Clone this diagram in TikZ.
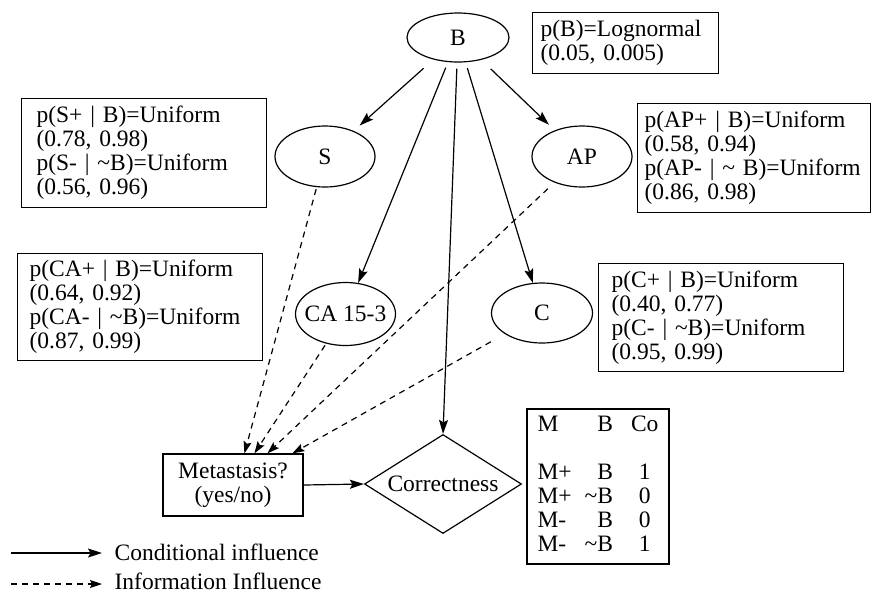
\documentclass[tikz,border=0pt]{standalone}
\usepackage{fontspec}
\setmainfont{Liberation Serif}
\usetikzlibrary{shapes.geometric,arrows.meta}
\begin{document}
\begin{tikzpicture}[x=1pt,y=-1pt,
  font=\fontsize{23.5}{24}\selectfont,
  line width=1.2pt,
  state/.style={ellipse,draw,inner sep=0pt},
  pbox/.style={draw,anchor=north west,align=left,inner ysep=0pt},
  cond/.style={-{Stealth[length=14pt,width=9pt,inset=2.5pt]}},
  info/.style={dash pattern=on 6pt off 5pt,-{Stealth[length=12pt,width=8pt,inset=2pt]}}
]
\useasboundingbox (0,0) rectangle (872,595);

% chance nodes
\node[state,minimum width=102pt,minimum height=49pt] (B) at (458,37.5) {B};
\node[state,minimum width=100pt,minimum height=61pt] (S) at (325,156.5) {S};
\node[state,minimum width=100pt,minimum height=61pt] (AP) at (582,156.5) {AP};
\node[state,minimum width=100pt,minimum height=63pt] (CA) at (345.5,314) {\makebox[0pt]{CA 15-3}};
\node[state,minimum width=101pt,minimum height=60pt] (C) at (542,313) {C};

% decision and value nodes
\node[draw,align=center,minimum width=140pt,minimum height=62pt,inner sep=0pt] (Met) at (233,485) {Metastasis?\\(yes/no)};
\node[diamond,draw,aspect=1.586,minimum width=157pt,minimum height=99pt,inner sep=0pt] (Cor) at (443,484) {Correctness};

% probability boxes
\node[pbox,text width=170pt,inner xsep=8pt,minimum height=61pt] (pB) at (532,12)
  {p(B)=Lognormal\\(0.05, 0.005)};
\node[pbox,text width=215pt,inner xsep=15pt,minimum height=109pt] (pS) at (21,98)
  {p(S+ | B)=Uniform\\(0.78, 0.98)\\p(S- | \textasciitilde B)=Uniform\\(0.56, 0.96)};
\node[pbox,text width=219pt,inner xsep=7pt,minimum height=109pt] (pAP) at (637,103)
  {p(AP+ | B)=Uniform\\(0.58, 0.94)\\p(AP- | \textasciitilde\ B)=Uniform\\(0.86, 0.98)};
\node[pbox,text width=221pt,inner xsep=12pt,minimum height=107pt] (pCA) at (17,253)
  {p(CA+ | B)=Uniform\\(0.64, 0.92)\\p(CA- | \textasciitilde B)=Uniform\\(0.87, 0.99)};
\node[pbox,text width=219pt,inner xsep=13pt,minimum height=108pt] (pC) at (598,263)
  {p(C+ | B)=Uniform\\(0.40, 0.77)\\p(C- | \textasciitilde B)=Uniform\\(0.95, 0.99)};

% value table
\node[draw,minimum width=142pt,minimum height=155pt,inner sep=0pt] (tab) at (598,486.5)
  {\begin{tabular}{@{}l@{\hspace{13pt}}r@{\hspace{18pt}}c@{}}
   M & B & Co\\
   \\
   M+ & B & 1\\
   M+ & \textasciitilde B & 0\\
   M- & B & 0\\
   M- & \textasciitilde B & 1
   \end{tabular}};

% conditional influences
\draw[cond,shorten <=13pt,shorten >=8pt] (B) -- (S);
\draw[cond,shorten <=13pt,shorten >=8pt] (B) -- (AP);
\draw[cond,shorten <=6pt] (B) -- (CA);
\draw[cond,shorten <=6pt] (B) -- (C);
\draw[cond,shorten <=6pt] (B) -- (Cor.north);
\draw[cond] (Met.east) -- (Cor.west);

% information influences into the decision
\path (Met.north west) ++(82,0) coordinate (m1) ++(10,0) coordinate (m2)
  ++(13,0) coordinate (m3) ++(25,0) coordinate (m4);
\draw[info,shorten <=2pt] (S) -- (m1);
\draw[info,shorten <=2pt] (CA) -- (m2);
\draw[info,shorten <=9pt] (AP) -- (m3);
\draw[info,shorten <=16pt] (C) -- (m4);

% legend
\node[anchor=west,inner sep=0pt] (legc) at (114,552) {Conditional influence};
\node[anchor=west,inner sep=0pt] (legi) at (114,581) {Information Influence};
\coordinate (lc) at (11,553);
\coordinate (li) at (11,584);
\draw[cond,shorten >=12pt] (lc) -- (lc -| legc.west);
\draw[info,shorten >=12pt] (li) -- (li -| legi.west);
\end{tikzpicture}
\end{document}
